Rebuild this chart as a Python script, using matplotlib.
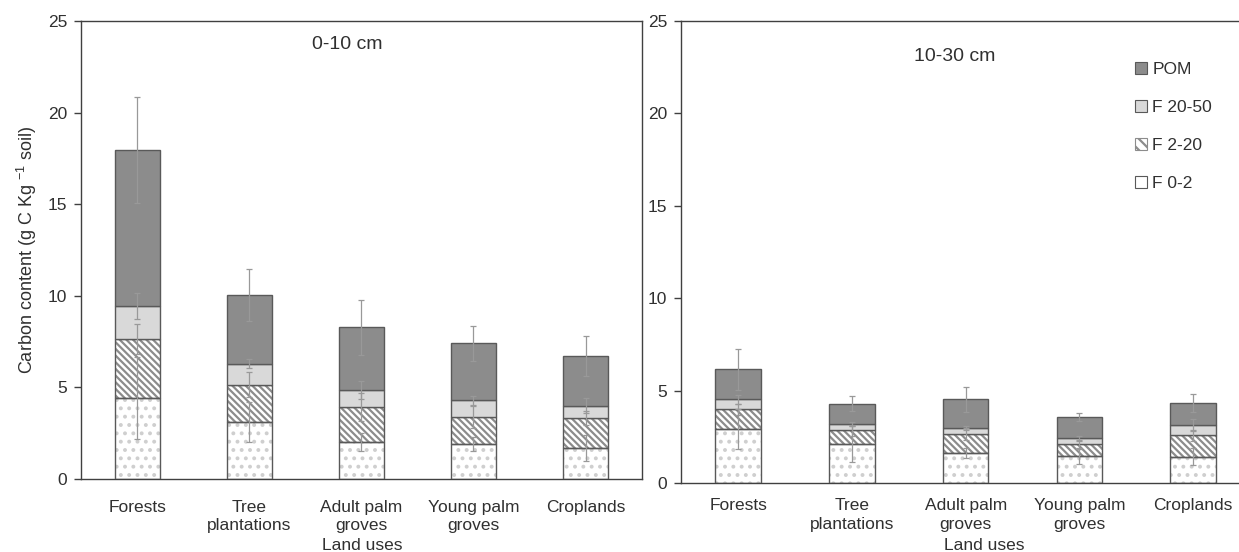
import matplotlib
matplotlib.use('Agg')
from matplotlib import pyplot as plt
from matplotlib.patches import Patch
import numpy as np

plt.rcParams['font.family'] = ['Liberation Sans', 'DejaVu Sans']
plt.rcParams['mathtext.fontset'] = 'custom'
plt.rcParams['mathtext.rm'] = 'Liberation Sans'
plt.rcParams['mathtext.it'] = 'Liberation Sans'
plt.rcParams['hatch.linewidth'] = 1.6

categories = ['Forests', 'Tree\nplantations', 'Adult palm\ngroves',
              'Young palm\ngroves', 'Croplands']
fractions = ['F 0-2', 'F 2-20', 'F 20-50', 'POM']

# 0-10 cm
top_f02 = [4.42, 3.12, 2.02, 1.92, 1.69]
top_f220 = [3.21, 2.03, 1.92, 1.45, 1.62]
top_f2050 = [1.83, 1.14, 0.91, 0.92, 0.69]
top_pom = [8.50, 3.77, 3.44, 3.11, 2.73]
top_err_f02 = [2.25, 1.10, 0.50, 0.38, 0.72]
top_err_f220 = [0.82, 0.70, 0.77, 0.60, 0.38]
top_err_f2050 = [0.70, 0.25, 0.50, 0.25, 0.40]
top_err_pom = [2.90, 1.43, 1.50, 0.96, 1.10]

# 10-30 cm
sub_f02 = [2.93, 2.10, 1.62, 1.47, 1.43]
sub_f220 = [1.05, 0.76, 1.03, 0.63, 1.16]
sub_f2050 = [0.54, 0.32, 0.34, 0.32, 0.55]
sub_pom = [1.63, 1.11, 1.53, 1.14, 1.19]
sub_err_f02 = [1.10, 0.98, 0.25, 0.44, 0.44]
sub_err_f220 = [0.30, 0.30, 0.35, 0.25, 0.30]
sub_err_f2050 = [0.25, 0.10, 0.10, 0.15, 0.30]
sub_err_pom = [1.10, 0.40, 0.66, 0.22, 0.47]

edge = '#595959'
axcol = '#404040'
txtcol = '#303030'
styles = [dict(color='white', hatch='..', hcol='#cfcfcf'),
          dict(color='white', hatch='\\\\\\\\\\', hcol='#8c8c8c'),
          dict(color='#d9d9d9', hatch=None, hcol=None),
          dict(color='#8c8c8c', hatch=None, hcol=None)]


def stacked(ax, segs, errs, title, tx, ty):
  x = np.arange(len(categories))
  w = 0.40
  bottom = np.zeros(len(categories))
  tops = []
  for vals, st in zip(segs, styles):
    vals = np.array(vals)
    if st['hatch']:
      ax.bar(x, vals, w, bottom=bottom, color=st['color'], edgecolor=st['hcol'],
             hatch=st['hatch'], linewidth=0, zorder=2)
      ax.bar(x, vals, w, bottom=bottom, fill=False, edgecolor=edge,
             linewidth=1.0, zorder=3)
    else:
      ax.bar(x, vals, w, bottom=bottom, color=st['color'], edgecolor=edge,
             linewidth=1.0, zorder=3)
    bottom = bottom + vals
    tops.append(bottom.copy())
  for t, e in zip(tops, errs):
    ax.errorbar(x, t, yerr=e, fmt='none', ecolor='#999999', elinewidth=0.9,
                capsize=2.5, capthick=0.9, zorder=5)
  ax.set_xlim(-0.5, 4.5)
  ax.set_ylim(0, 25)
  ax.set_yticks([0, 5, 10, 15, 20, 25])
  ax.set_xticks(x)
  ax.set_xticklabels(categories, fontsize=12.5, color=txtcol, linespacing=1.3)
  ax.tick_params(axis='x', length=0, pad=15)
  ax.tick_params(axis='y', direction='out', length=5, width=1, color=axcol,
                 labelsize=12.5, labelcolor=txtcol, pad=5)
  for s in ax.spines.values():
    s.set_color(axcol)
    s.set_linewidth(1.0)
  ax.text(tx, ty, title, transform=ax.transAxes, fontsize=14, color=txtcol,
          ha='center', va='center')
  return ax


fig = plt.figure(figsize=(12.39, 5.52), dpi=100)
ax1 = fig.add_axes([0.0654, 0.1322, 0.4525, 0.8298])
ax2 = fig.add_axes([0.5499, 0.1250, 0.4590, 0.8370])

stacked(ax1, [top_f02, top_f220, top_f2050, top_pom],
        [top_err_f02, top_err_f220, top_err_f2050, top_err_pom],
        '0-10 cm', 0.475, 0.948)
stacked(ax2, [sub_f02, sub_f220, sub_f2050, sub_pom],
        [sub_err_f02, sub_err_f220, sub_err_f2050, sub_err_pom],
        '10-30 cm', 0.48, 0.923)
ax2.spines['right'].set_visible(False)
ax2.tick_params(axis='x', pad=11)

ax1.set_ylabel('Carbon content (g C Kg $^{-1}$ soil)', fontsize=13,
               color=txtcol, labelpad=6)
fig.text(362/1239, 1-545/552, 'Land uses', ha='center', va='center',
         fontsize=12.5, color=txtcol)
fig.text(984/1239, 1-545/552, 'Land uses', ha='center', va='center',
         fontsize=12.5, color=txtcol)

handles = []
for st, lab in zip(styles[::-1], fractions[::-1]):
  if st['hatch'] == '..':
    handles.append(Patch(facecolor='white', edgecolor=edge, linewidth=0.8, label=lab))
  elif st['hatch']:
    handles.append(Patch(facecolor='white', edgecolor=st['hcol'], hatch='\\\\\\',
                         linewidth=0.8, label=lab))
  else:
    handles.append(Patch(facecolor=st['color'], edgecolor=edge, linewidth=0.8, label=lab))
ax2.legend(handles=handles, loc='upper left', bbox_to_anchor=(0.77, 0.945),
           frameon=False, fontsize=12.5, handlelength=0.7, handleheight=0.7,
           handletextpad=0.3, labelspacing=1.32, labelcolor=txtcol)

fig.savefig('out.png', dpi=100)
